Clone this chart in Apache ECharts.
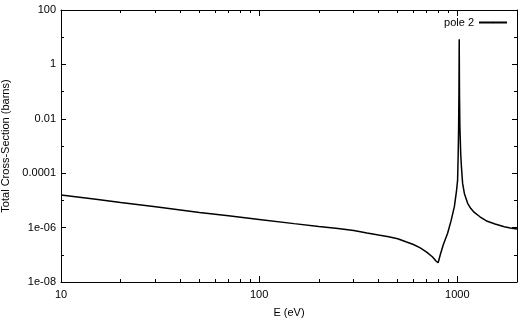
<!DOCTYPE html>
<html>
<head>
<meta charset="utf-8">
<script src="https://cdn.jsdelivr.net/npm/echarts@6/dist/echarts.min.js"></script>
<style>
  html, body { margin: 0; padding: 0; background: #fff; }
  #main { width: 520px; height: 321px; }
</style>
</head>
<body>
<div id="main"></div>
<script>
// energies in eV, cross sections in barns
var energies = [10, 15, 20, 30, 50, 70, 100, 150, 200, 250, 300, 350, 400, 450, 500, 550, 600, 650, 700, 750, 780, 800, 820, 850, 893, 930, 966, 990, 1003, 1010, 1015, 1019, 1022, 1025, 1030, 1040, 1050, 1063, 1085, 1127, 1170, 1218, 1300, 1416, 1550, 1725, 1850, 2000];
var crossSections = [1.58e-5, 1.1e-5, 8.4e-6, 5.8e-6, 3.6e-6, 2.7e-6, 2.0e-6, 1.4e-6, 1.1e-6, 9.3e-7, 7.8e-7, 6.3e-7, 5.3e-7, 4.6e-7, 3.9e-7, 3.0e-7, 2.4e-7, 1.8e-7, 1.25e-7, 8.3e-8, 5.9e-8, 5.1e-8, 1.0e-7, 2.4e-7, 6.2e-7, 1.8e-6, 5.9e-6, 2.2e-5, 5.6e-5, 5e-4, 5e-3, 0.1, 8.4, 0.1, 5e-3, 5e-4, 1.5e-4, 4.3e-5, 1.8e-5, 7.8e-6, 5.0e-6, 3.6e-6, 2.5e-6, 1.7e-6, 1.35e-6, 1.07e-6, 9.6e-7, 8.8e-7];

var xTickLabels = [10, 100, 1000];
var xMinorTicks = [20, 30, 40, 50, 60, 70, 80, 90, 200, 300, 400, 500, 600, 700, 800, 900];
var yTickLabels = ['1e-08', '1e-06', '0.0001', '0.01', '1', '100'];
var yMinorTicks = [1e-7, 1e-5, 1e-3, 0.1, 10];

var points = [];
for (var i = 0; i < energies.length; i++) {
    points.push([energies[i], crossSections[i]]);
}

var font = 'Liberation Sans, Arial, sans-serif';
var black = '#000';
var xMin = 10, xMax = 2000;
var yMin = 1e-8, yMax = 100;

// main log x axis: decade ticks, labels at 10/100/1000
function xAxisDef(position, showLabel) {
    return {
        type: 'log', logBase: 10, min: xMin, max: xMax, position: position,
        axisLine: { show: true, onZero: false, lineStyle: { color: black, width: 1 } },
        axisTick: { show: true, inside: true, length: 6, lineStyle: { color: black, width: 1 } },
        axisLabel: {
            show: showLabel, customValues: xTickLabels, margin: 7, color: black, fontSize: 11, fontFamily: font,
            formatter: function (v) { return String(Math.round(v)); }
        },
        splitLine: { show: false }
    };
}
// overlay axis in decades (log10 E), only used for the 2..9 minor ticks
function xMinorDef(position) {
    return {
        type: 'value', min: Math.log10(xMin), max: Math.log10(xMax), position: position,
        axisLine: { show: false, onZero: false },
        axisTick: { show: true, inside: true, length: 3, customValues: xMinorTicks.map(Math.log10), lineStyle: { color: black, width: 1 } },
        axisLabel: { show: false },
        splitLine: { show: false }
    };
}
function yAxisDef(position, showLabel) {
    return {
        type: 'log', logBase: 10, min: yMin, max: yMax, interval: 2, position: position,
        axisLine: { show: true, onZero: false, lineStyle: { color: black, width: 1 } },
        axisTick: { show: true, inside: true, length: 5, lineStyle: { color: black, width: 1 } },
        axisLabel: {
            show: showLabel, margin: 5, color: black, fontSize: 11, fontFamily: font,
            formatter: function (v) {
                var k = Math.round(Math.log10(v)) + 8;
                return yTickLabels[k / 2] || '';
            }
        },
        splitLine: { show: false }
    };
}
// overlay axis in decades for the odd-decade minor ticks
function yMinorDef(position) {
    return {
        type: 'value', min: Math.log10(yMin), max: Math.log10(yMax), position: position,
        axisLine: { show: false, onZero: false },
        axisTick: { show: true, inside: true, length: 3, customValues: yMinorTicks.map(Math.log10), lineStyle: { color: black, width: 1 } },
        axisLabel: { show: false },
        splitLine: { show: false }
    };
}

var xBottom = xAxisDef('bottom', true);
xBottom.name = 'E (eV)';
xBottom.nameLocation = 'middle';
xBottom.nameGap = 25;
xBottom.nameTextStyle = { color: black, fontSize: 11, fontFamily: font };

var yLeft = yAxisDef('left', true);
yLeft.name = 'Total Cross-Section (barns)';
yLeft.nameLocation = 'middle';
yLeft.nameGap = 48;
yLeft.nameTextStyle = { color: black, fontSize: 11, fontFamily: font };

var myChart = echarts.init(document.getElementById('main'));
var option = {
    backgroundColor: '#fff',
    animation: false,
    grid: { left: 61, right: 3, top: 10, bottom: 39, outerBoundsMode: 'none' },
    legend: {
        right: 7, top: 12,
        align: 'right',
        itemWidth: 28, itemHeight: 2, itemGap: 5,
        textStyle: { color: black, fontSize: 11, fontFamily: font },
        data: ['pole 2']
    },
    xAxis: [
        xBottom,
        xAxisDef('top', false),
        xMinorDef('bottom'),
        xMinorDef('top')
    ],
    yAxis: [
        yLeft,
        yAxisDef('right', false),
        yMinorDef('left'),
        yMinorDef('right')
    ],
    series: [{
        name: 'pole 2',
        type: 'line',
        xAxisIndex: 0,
        yAxisIndex: 0,
        symbol: 'none',
        data: points,
        lineStyle: { color: black, width: 1.5 },
        itemStyle: { color: black }
    }]
};
myChart.setOption(option);
</script>
</body>
</html>
